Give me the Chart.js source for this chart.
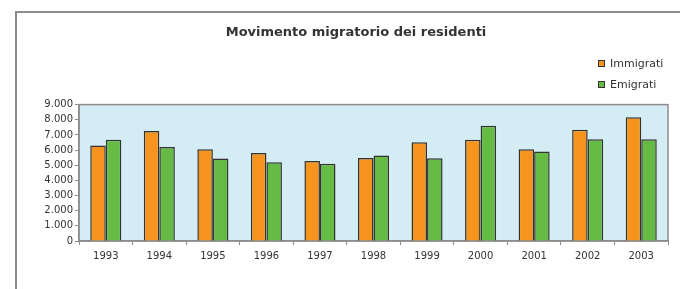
<!DOCTYPE html>
<html>
<head>
<meta charset="utf-8">
<script src="https://cdn.jsdelivr.net/npm/chart.js@4.4.1/dist/chart.umd.min.js"></script>
<style>
  html, body { margin:0; padding:0; background:#fff; }
  #wrap { position:relative; width:680px; height:289px; overflow:hidden; }
  #frame { position:absolute; left:15px; top:11px; width:700px; height:320px; border:2px solid #8c8c8c; box-sizing:border-box; }
  canvas { position:absolute; left:0; top:0; }
  .leg { position:absolute; left:598px; font:11px 'DejaVu Sans', sans-serif; color:#333; display:flex; align-items:center; }
  .leg i { display:inline-block; width:5px; height:5px; border:1.5px solid #333; margin-right:5px; }
</style>
</head>
<body>
<div id="wrap">
  <div id="frame"></div>
  <canvas id="c" width="680" height="289"></canvas>
  <div id="legend"></div>
</div>
<script>
(function(){
  'use strict';
  // dati
  const ANNI = ['1993','1994','1995','1996','1997','1998','1999','2000','2001','2002','2003'];
  const IMMIGRATI = [6300, 7250, 6060, 5800, 5280, 5480, 6520, 6680, 6060, 7340, 8160];
  const EMIGRATI  = [6680, 6200, 5440, 5200, 5090, 5640, 5460, 7600, 5900, 6720, 6720];
  const Y_MAX = 9000, Y_STEP = 1000;

  const C = {orange:'#f7941d', green:'#66bb45', edge:'#333', bg:'#d4ecf4', axis:'#8c8c8c', text:'#333'};
  Chart.defaults.font.family = "'DejaVu Sans', sans-serif";
  Chart.defaults.color = C.text;

  const fmt = v => v >= 1000 ? Math.floor(v/1000) + '.' + String(v % 1000).padStart(3, '0') : String(v);

  // sfondo e bordo dell'area del grafico
  const plotBg = {id:'plotBg', beforeDraw(chart){
    const a = chart.chartArea, ctx = chart.ctx;
    ctx.save();
    ctx.fillStyle = C.bg; ctx.fillRect(a.left, a.top, a.right - a.left, a.bottom - a.top);
    ctx.strokeStyle = C.axis; ctx.lineWidth = 1.5;
    ctx.strokeRect(a.left, a.top, a.right - a.left, a.bottom - a.top);
    ctx.restore();
  }};

  const datasets = [
    {label:'Immigrati', data:IMMIGRATI, backgroundColor:C.orange, borderColor:C.edge, borderWidth:1.5, barPercentage:1, categoryPercentage:0.58},
    {label:'Emigrati',  data:EMIGRATI,  backgroundColor:C.green,  borderColor:C.edge, borderWidth:1.5, barPercentage:1, categoryPercentage:0.58}
  ];

  new Chart(document.getElementById('c'), {type:'bar', data:{labels:ANNI, datasets},
    options:{responsive:false, animation:false, devicePixelRatio:1,
      layout:{padding:{left:44, right:12, top:0, bottom:0}},
      plugins:{legend:{display:false}, tooltip:{enabled:false},
        title:{display:true, text:'Movimento migratorio dei residenti', color:C.text,
          font:{size:13, weight:'bold'}, padding:{top:25, bottom:64}}},
      scales:{
        x:{grid:{offset:true, drawOnChartArea:false, tickLength:4, color:C.axis},
           border:{color:C.axis, width:1.5},
           ticks:{font:{size:10}, padding:5, maxRotation:0},
           afterFit: s => { s.height = 48; }},
        y:{min:0, max:Y_MAX, grid:{drawOnChartArea:false, tickLength:4, color:C.axis},
           border:{color:C.axis, width:1.5},
           ticks:{stepSize:Y_STEP, font:{size:10}, padding:2, callback:fmt},
           afterFit: s => { s.width = 35; }}
      }},
    plugins:[plotBg]});

  // legenda verticale in alto a destra
  const leg = document.getElementById('legend');
  datasets.forEach((d, i) => {
    const el = document.createElement('div');
    el.className = 'leg';
    el.style.top = (57 + i * 21) + 'px';
    el.innerHTML = '<i style="background:' + d.backgroundColor + '"></i>' + d.label;
    leg.appendChild(el);
  });
})();
</script>
</body>
</html>
